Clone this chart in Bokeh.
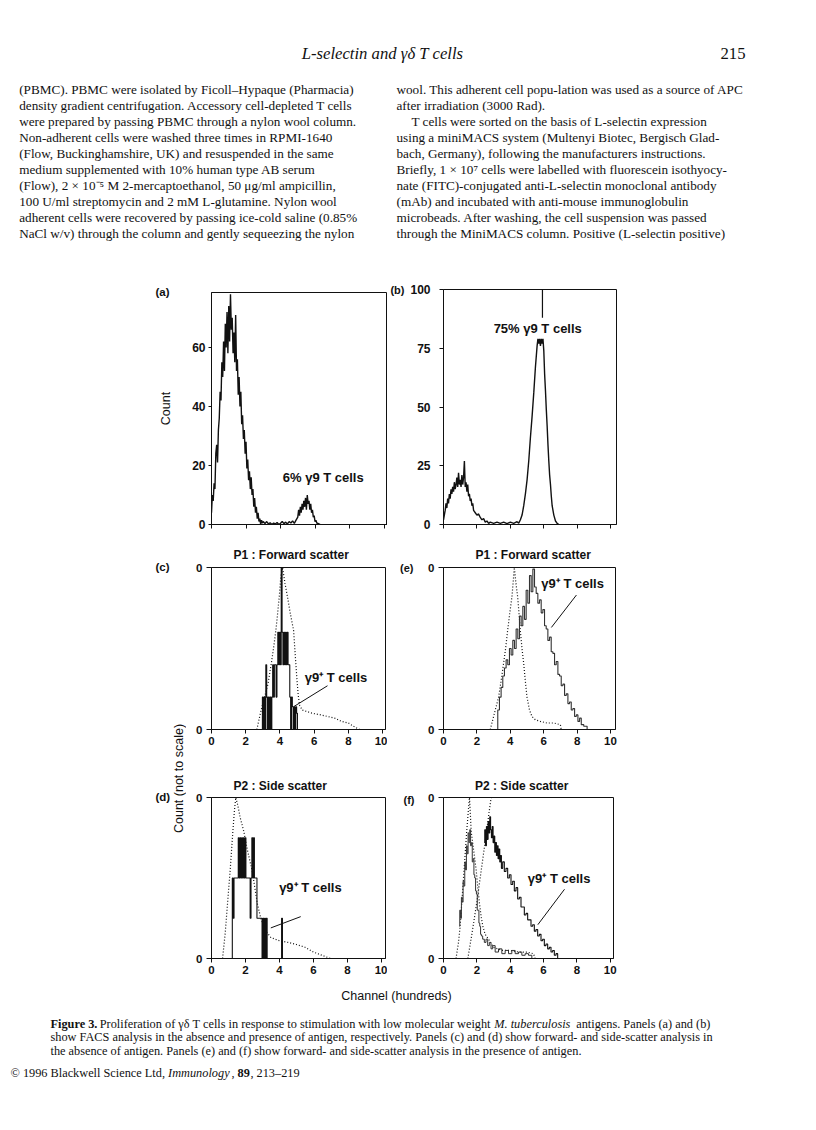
from bokeh.plotting import figure
from bokeh.layouts import row, column
from bokeh.models import Range1d, FixedTicker, LinearAxis
from bokeh.embed import file_html
from bokeh.resources import INLINE
from bokeh.core.properties import value

INK = "#111111"
SERIF = "Liberation Serif"
SANS = "Liberation Sans"

# ---------------------------------------------------------------- page text
header_title = "L-selectin and γδ T cells"
header_page = "215"

left_lines = [
    "(PBMC). PBMC were isolated by Ficoll–Hypaque (Pharmacia)",
    "density gradient centrifugation. Accessory cell-depleted T cells",
    "were prepared by passing PBMC through a nylon wool column.",
    "Non-adherent cells were washed three times in RPMI-1640",
    "(Flow, Buckinghamshire, UK) and resuspended in the same",
    "medium supplemented with 10% human type AB serum",
    "(Flow), 2 × 10⁻⁵ M 2-mercaptoethanol, 50 μg/ml ampicillin,",
    "100 U/ml streptomycin and 2 mM L-glutamine. Nylon wool",
    "adherent cells were recovered by passing ice-cold saline (0.85%",
    "NaCl w/v) through the column and gently sequeezing the nylon",
]
right_lines = [
    "wool. This adherent cell popu-lation was used as a source of APC",
    "after irradiation (3000 Rad).",
    "T cells were sorted on the basis of L-selectin expression",
    "using a miniMACS system (Multenyi Biotec, Bergisch Glad-",
    "bach, Germany), following the manufacturers instructions.",
    "Briefly, 1 × 10⁷ cells were labelled with fluorescein isothyocy-",
    "nate (FITC)-conjugated anti-L-selectin monoclonal antibody",
    "(mAb) and incubated with anti-mouse immunoglobulin",
    "microbeads. After washing, the cell suspension was passed",
    "through the MiniMACS column. Positive (L-selectin positive)",
]
right_indent = [False, False, True, False, False, False, False, False, False, False]

caption_lines = [
    [("Figure 3.", "bold"),
     ("Proliferation of γδ T cells in response to stimulation with low molecular weight", "normal"),
     ("M. tuberculosis", "italic"),
     ("antigens. Panels (a) and (b)", "normal")],
    [("show FACS analysis in the absence and presence of antigen, respectively. Panels (c) and (d) show forward- and side-scatter analysis in", "normal")],
    [("the absence of antigen. Panels (e) and (f) show forward- and side-scatter analysis in the presence of antigen.", "normal")],
]
copyright_parts = [("© 1996 Blackwell Science Ltd,", "normal", False),
                   ("Immunology", "italic", True),
                   (",", "normal", False),
                   ("89", "bold", True),
                   (", 213–219", "normal", False)]

axis_x_title = "Channel (hundreds)"
count_title = "Count"
count_ns_title = "Count (not to scale)"
p1_title = "P1 : Forward scatter"
p2_title = "P2 : Side scatter"

# ---------------------------------------------------------------- panel data
x_ticks = [0, 2, 4, 6, 8, 10]
a_yticks = [0, 20, 40, 60]
b_yticks = [0, 25, 50, 75, 100]
cdef_yticks = [0, 1]
cdef_ylabels = {1: "0"}

# (a) FACS histogram, no antigen
a_x = [0.00, 0.05, 0.10, 0.15, 0.20, 0.25, 0.30, 0.35, 0.40, 0.45, 0.50, 0.55, 0.60, 0.65, 0.70, 0.75, 0.80, 0.85, 0.90, 0.95,
       1.00, 1.05, 1.10, 1.15, 1.20, 1.25, 1.30, 1.35, 1.40, 1.45, 1.50, 1.55, 1.60, 1.65, 1.70, 1.75, 1.80, 1.85, 1.90, 1.95,
       2.00, 2.05, 2.10, 2.15, 2.20, 2.25, 2.30, 2.35, 2.40, 2.45, 2.50, 2.55, 2.60, 2.65, 2.70, 2.75, 2.80, 2.85, 2.90, 2.95,
       3.0, 3.1, 3.2, 3.3, 3.4, 3.5, 3.6, 3.7, 3.8, 3.9, 4.0, 4.1, 4.2, 4.3, 4.4, 4.5, 4.6, 4.7, 4.8, 4.9,
       5.0, 5.05, 5.1, 5.15, 5.2, 5.25, 5.3, 5.35, 5.4, 5.45, 5.5, 5.55, 5.6, 5.65, 5.7, 5.75, 5.8, 5.85, 5.9, 5.95,
       6.0, 6.05, 6.1, 6.2, 6.3]
a_count = [4, 10, 8, 14, 12, 24, 27, 21, 32, 36, 45, 42, 55, 50, 62, 52, 68, 60, 72, 58,
           74, 62, 78, 66, 70, 58, 65, 55, 71, 52, 56, 44, 50, 40, 45, 34, 37, 29, 32, 24,
           28, 19, 22, 15, 18, 12, 16, 10, 12, 6, 9, 4, 6, 2, 4, 1, 2, 0, 1.5, 0.5,
           1, 0.3, 1, 0.2, 0.6, 0, 0.5, 0.2, 0.7, 0, 0.4, 1, 0.3, 0.8, 0.2, 1, 0.5, 1.2, 0.4, 1.5,
           2.5, 5, 3, 6, 4, 7, 5, 8, 6, 9, 5, 10, 7, 8, 5, 7, 4, 5, 2.5, 3,
           1, 1.5, 0.5, 0.3, 0]
a_note = "6% γ9 T cells"

# (b) FACS histogram, with antigen
b_x = [0.0, 0.1, 0.15, 0.2, 0.25, 0.3, 0.35, 0.4, 0.45, 0.5, 0.55, 0.6, 0.65, 0.7, 0.75, 0.8, 0.85, 0.9, 0.95, 1.0,
       1.05, 1.1, 1.15, 1.2, 1.25, 1.3, 1.35, 1.4, 1.45, 1.5, 1.55, 1.6, 1.65, 1.7, 1.75, 1.8, 1.9, 2.0, 2.1, 2.2,
       2.3, 2.4, 2.5, 2.6, 2.7, 2.8, 3.0, 3.2, 3.4, 3.6, 3.8, 4.0, 4.2, 4.4, 4.5, 4.6, 4.7, 4.8, 4.9, 5.0,
       5.1, 5.2, 5.3, 5.4, 5.5, 5.6, 5.65, 5.7, 5.75, 5.8, 5.85, 5.9, 5.95, 6.0, 6.05, 6.1, 6.15, 6.2, 6.25, 6.3,
       6.35, 6.4, 6.45, 6.5, 6.6, 6.7, 6.8, 6.9]
b_count = [2, 6, 9, 7, 11, 9, 13, 11, 15, 13, 16, 14, 18, 15, 17, 20, 16, 22, 17, 19,
           16, 21, 17, 20, 27, 16, 18, 14, 17, 12, 13, 10, 11, 8, 9, 6, 5, 4, 4.5, 3,
           2, 2.5, 1, 1.5, 0.5, 1, 0.5, 1, 0.5, 1, 0.4, 1, 0.5, 1.2, 0.6, 2, 4, 8, 13, 19,
           27, 37, 46, 56, 67, 76, 79, 77, 79, 76, 79, 77, 79, 74, 64, 57, 49, 42, 34, 27,
           21, 17, 12, 8, 4, 1.5, 0.5, 0]
b_spike_x = [5.92]
b_spike_lo = [88]
b_spike_hi = [100]
b_note = "75% γ9 T cells"

# (c) forward scatter, no antigen
c_tot_x = [2.65, 2.9, 3.1, 3.3, 3.5, 3.65, 3.76, 3.85, 3.96, 4.05, 4.15, 4.3, 4.44, 4.6, 4.8, 4.9, 5.0, 5.07, 5.15, 5.3,
           5.6, 5.9, 6.4, 6.8, 7.2, 7.6, 8.0, 8.3, 8.65]
c_tot_y = [0, 0.12, 0.2, 0.28, 0.41, 0.52, 0.61, 0.7, 0.82, 0.94, 1.0, 0.9, 0.82, 0.72, 0.61, 0.45, 0.3, 0.21, 0.15, 0.12,
           0.11, 0.10, 0.09, 0.08, 0.07, 0.05, 0.04, 0.02, 0]
c_pos_x = [2.95, 3.00, 3.05, 3.10, 3.15, 3.20, 3.25, 3.30, 3.35, 3.40, 3.45, 3.50, 3.55, 3.60, 3.65, 3.70, 3.75, 3.80, 3.85, 3.90,
           3.95, 4.00, 4.05, 4.10, 4.15, 4.20, 4.25, 4.30, 4.35, 4.40, 4.45, 4.50, 4.55, 4.60, 4.65, 4.70, 4.75, 4.80, 4.85, 4.90,
           4.95, 5.00, 5.05]
c_pos_y = [0, 0.2, 0, 0.2, 0, 0.4, 0.2, 0, 0.2, 0, 0.2, 0, 0.2, 0.4, 0.2, 0.4, 0.4, 0.2, 0.4, 0.6,
           0.4, 0.6, 0.4, 1.0, 0.6, 0.4, 0.6, 0.4, 0.6, 0.4, 0.6, 0.4, 0.4, 0.2, 0, 0.2, 0.14, 0, 0.14, 0,
           0.14, 0.1, 0]

# (d) side scatter, no antigen
d_tot_x = [0.65, 0.8, 0.95, 1.1, 1.25, 1.35, 1.43, 1.55, 1.7, 1.9, 2.1, 2.4, 2.7, 2.9, 3.2, 3.5, 4.0, 4.5, 5.0, 5.5,
           6.0, 6.5, 7.0]
d_tot_y = [0, 0.15, 0.35, 0.55, 0.78, 0.92, 1.0, 0.95, 0.87, 0.79, 0.68, 0.54, 0.34, 0.25, 0.17, 0.13, 0.11, 0.1, 0.087, 0.07,
           0.04, 0.02, 0]
d_pos_x = [1.20, 1.25, 1.30, 1.35, 1.40, 1.45, 1.50, 1.55, 1.60, 1.65, 1.70, 1.75, 1.80, 1.85, 1.90, 1.95, 2.00, 2.05, 2.10, 2.15,
           2.20, 2.25, 2.30, 2.35, 2.40, 2.45, 2.50, 2.55, 2.60, 2.65, 2.70, 2.75, 2.80, 2.85, 2.90, 2.95, 3.00, 3.05, 3.10, 3.15,
           3.20, 3.25, 3.30, 3.35, 4.10, 4.15, 4.20]
d_pos_y = [0, 0.5, 0.25, 0.5, 0.5, 0.5, 0.5, 0.5, 0.75, 0.5, 0.75, 0.5, 0.75, 0.5, 0.75, 0.5, 0.75, 0.5, 0.5, 0.5,
           0.5, 0.5, 0.25, 0.5, 0.75, 0.5, 0.75, 0.5, 0.5, 0.5, 0.25, 0.25, 0.25, 0.25, 0.25, 0.25, 0, 0.25, 0, 0.25,
           0, 0.25, 0, 0, 0, 0.25, 0]

# (e) forward scatter, with antigen
e_tot_x = [2.8, 3.0, 3.3, 3.45, 3.6, 3.72, 3.84, 3.97, 4.1, 4.18, 4.24, 4.34, 4.44, 4.52, 4.6, 4.7, 4.8, 4.9, 5.0, 5.15,
           5.3, 5.5, 5.8, 6.2, 6.6, 7.0, 7.05]
e_tot_y = [0, 0.08, 0.2, 0.3, 0.41, 0.5, 0.61, 0.72, 0.82, 0.92, 1.0, 0.9, 0.82, 0.72, 0.61, 0.5, 0.41, 0.3, 0.2, 0.12,
           0.08, 0.06, 0.05, 0.04, 0.04, 0.03, 0]
e_pos_x = [3.2, 3.3, 3.4, 3.5, 3.6, 3.7, 3.8, 3.9, 4.0, 4.1, 4.2, 4.3, 4.4, 4.5, 4.6, 4.7, 4.8, 4.9, 5.0, 5.1,
           5.2, 5.3, 5.4, 5.5, 5.6, 5.7, 5.8, 5.9, 6.0, 6.1, 6.2, 6.3, 6.4, 6.5, 6.6, 6.7, 6.8, 6.9, 7.0, 7.1,
           7.2, 7.3, 7.4, 7.5, 7.6, 7.7, 7.8, 7.9, 8.0, 8.1, 8.2, 8.3, 8.5, 8.7]
e_pos_y = [0, 0.12, 0.2, 0.26, 0.33, 0.38, 0.43, 0.40, 0.5, 0.46, 0.55, 0.5, 0.62, 0.56, 0.7, 0.64, 0.76, 0.68, 0.86, 0.78,
           0.95, 0.85, 0.99, 0.88, 0.84, 0.78, 0.80, 0.72, 0.74, 0.64, 0.62, 0.55, 0.57, 0.48, 0.47, 0.40, 0.42, 0.34, 0.33, 0.27,
           0.28, 0.21, 0.22, 0.16, 0.17, 0.12, 0.13, 0.08, 0.09, 0.05, 0.07, 0.03, 0.02, 0]

# (f) side scatter, with antigen
f_neg_x = [0.75, 0.9, 1.0, 1.1, 1.2, 1.3, 1.4, 1.5, 1.56, 1.62, 1.66, 1.8, 1.96, 2.06, 2.16, 2.26, 2.36, 2.5, 2.76, 3.0,
           3.5, 4.0, 4.5, 5.0, 5.4, 5.5]
f_neg_y = [0, 0.1, 0.2, 0.35, 0.5, 0.65, 0.8, 0.93, 1.0, 0.88, 0.79, 0.68, 0.55, 0.44, 0.34, 0.26, 0.2, 0.15, 0.11, 0.07,
           0.05, 0.05, 0.04, 0.04, 0.03, 0]
f_negr_x = [0.95, 1.0, 1.05, 1.1, 1.15, 1.2, 1.25, 1.3, 1.35, 1.4, 1.45, 1.5, 1.55, 1.6, 1.65, 1.7, 1.75, 1.8, 1.85, 1.9,
            1.95, 2.0, 2.05, 2.1, 2.15, 2.2, 2.25, 2.3, 2.4, 2.5, 2.6, 2.7, 2.8, 2.9, 3.0, 3.2, 3.4, 3.6, 3.8, 4.0,
            4.2, 4.4, 4.6, 4.8, 5.0, 5.2, 5.4]
f_negr_y = [0.2, 0.3, 0.25, 0.38, 0.35, 0.48, 0.45, 0.6, 0.55, 0.7, 0.65, 0.78, 0.72, 0.8, 0.7, 0.72, 0.6, 0.62, 0.52, 0.5,
            0.42, 0.4, 0.3, 0.3, 0.22, 0.2, 0.15, 0.14, 0.12, 0.1, 0.12, 0.08, 0.1, 0.06, 0.08, 0.04, 0.06, 0.03, 0.05, 0.03,
            0.05, 0.03, 0.04, 0.02, 0.03, 0.02, 0]
f_rise_x = [1.46, 1.7, 2.0, 2.2, 2.4, 2.6, 2.75, 2.86]
f_rise_y = [0, 0.15, 0.35, 0.5, 0.65, 0.8, 0.92, 1.0]
f_pos_x = [2.45, 2.5, 2.55, 2.6, 2.65, 2.7, 2.75, 2.8, 2.85, 2.9, 2.95, 3.0, 3.05, 3.1, 3.15, 3.2, 3.25, 3.3, 3.35, 3.4,
           3.45, 3.5, 3.6, 3.7, 3.8, 3.9, 4.0, 4.1, 4.2, 4.3, 4.4, 4.5, 4.6, 4.7, 4.8, 4.9, 5.0, 5.1, 5.2, 5.3,
           5.4, 5.5, 5.6, 5.7, 5.8, 5.9, 6.0, 6.1, 6.2, 6.3, 6.4, 6.5, 6.6, 6.7, 6.8, 6.9]
f_pos_y = [0.72, 0.8, 0.7, 0.82, 0.74, 0.85, 0.78, 0.88, 0.8, 0.75, 0.82, 0.72, 0.76, 0.66, 0.72, 0.64, 0.7, 0.62, 0.68, 0.6,
           0.64, 0.56, 0.6, 0.54, 0.56, 0.5, 0.52, 0.46, 0.48, 0.42, 0.44, 0.37, 0.38, 0.32, 0.32, 0.27, 0.28, 0.24, 0.24, 0.2,
           0.21, 0.17, 0.18, 0.14, 0.15, 0.11, 0.12, 0.08, 0.09, 0.06, 0.07, 0.04, 0.05, 0.02, 0.03, 0]

pos_note = "γ9⁺ T cells"
# note anchors (data units of each panel): text left/middle, leader start -> end
c_note_xy = (5.45, 0.32); c_lead = ([6.78], [0.27], [4.79], [0.14])
e_note_xy = (5.86, 0.90); e_lead = ([7.96], [0.83], [6.46], [0.63])
d_note_xy = (3.98, 0.44); d_lead = ([5.25], [0.26], [3.49], [0.19])
f_note_xy = (5.06, 0.50); f_lead = ([7.26], [0.43], [5.66], [0.21])

# ---------------------------------------------------------------- helpers
_TW = dict(zip("abcdefghijklmnopqrstuvwxyz",
               [444, 500, 444, 500, 444, 333, 500, 500, 278, 278, 500, 278, 778, 500, 500, 500, 500, 333, 389, 278,
                500, 500, 722, 500, 500, 444]))
_TW.update(zip("ABCDEFGHIJKLMNOPQRSTUVWXYZ",
               [722, 667, 667, 722, 611, 556, 722, 722, 333, 389, 722, 611, 889, 722, 722, 556, 722, 667, 556, 611,
                722, 722, 944, 722, 722, 611]))
_TW.update({c: 500 for c in "0123456789"})
_TW.update({" ": 250, "(": 333, ")": 333, ".": 250, ",": 250, "-": 333, "–": 500, "/": 278, "%": 833,
            ":": 278, ";": 278, "×": 564, "©": 760, "γ": 440, "δ": 500})
_TWI = dict(_TW)
_TWI.update(zip("abcdefghijklmnopqrstuvwxyz",
                [500, 500, 444, 500, 444, 278, 500, 500, 278, 278, 444, 278, 722, 500, 500, 500, 500, 389, 389, 278,
                 500, 444, 667, 444, 444, 389]))
_TWI.update({"M": 833})


def tw(s, fs, style):
    table = _TWI if style == "italic" else _TW
    f = {"bold": 1.04, "italic": 1.03}.get(style, 1.0)
    return sum(table.get(c, 500) for c in s) / 1000.0 * fs * f


def text_fig(x0, x1, y0, y1):
    p = figure(width=round(x1 - x0), height=round(y1 - y0),
               x_range=Range1d(x0, x1), y_range=Range1d(y1, y0),
               x_axis_location=None, y_axis_location=None, min_border=0,
               output_backend="svg", toolbar_location=None, tools="", title=None)
    p.grid.visible = False
    p.outline_line_color = None
    p.background_fill_color = "white"
    p.border_fill_color = "white"
    return p


def put(p, xs, ys, texts, font=SERIF, size=13.2, style="normal", align="left", angle=0, color=INK):
    p.text(x=xs, y=ys, text=texts, text_font=value(font), text_font_size=value(f"{size}px"),
           text_font_style=value(style), text_align=value(align), text_baseline=value("middle"),
           angle=angle, angle_units="deg", text_color=color)


def make_panel(xr, yr, fw, fh, bl, br, bt, bb):
    p = figure(frame_width=fw, frame_height=fh, x_range=Range1d(*xr), y_range=Range1d(*yr),
               min_border_left=bl, min_border_right=br, min_border_top=bt, min_border_bottom=bb,
               output_backend="svg", toolbar_location=None, tools="", title=None)
    p.grid.visible = False
    p.outline_line_color = INK
    p.outline_line_width = 1
    p.outline_line_alpha = 1
    p.background_fill_color = "white"
    p.border_fill_color = "white"
    return p


def style_axis(ax, ticks, overrides=None, font=SANS, size="11.5px", out=4, standoff=3, labels=True):
    ax.ticker = FixedTicker(ticks=ticks)
    ax.major_tick_in = 0
    ax.major_tick_out = out
    ax.minor_tick_in = 0
    ax.minor_tick_out = 0
    ax.axis_line_color = INK
    ax.axis_line_width = 1
    ax.major_tick_line_color = INK
    ax.major_tick_line_width = 1
    ax.major_label_text_color = INK
    ax.major_label_text_font = font
    ax.major_label_text_font_style = "bold"
    if labels:
        ax.major_label_overrides = overrides or {}
        ax.major_label_text_font_size = size
        ax.major_label_standoff = standoff
    else:
        ax.major_label_overrides = {t: "" for t in ticks}
        ax.major_label_text_font_size = "1px"
        ax.major_label_standoff = 0


def panel_letter(p, tick, letter, standoff):
    # an outer, line-less left axis whose single label is the panel letter
    ax = LinearAxis(ticker=FixedTicker(ticks=[tick]), major_label_overrides={tick: letter})
    ax.axis_line_color = None
    ax.major_tick_line_color = None
    ax.major_tick_in = 0
    ax.major_tick_out = 0
    ax.minor_tick_in = 0
    ax.minor_tick_out = 0
    ax.major_label_standoff = standoff
    ax.major_label_text_font = SANS
    ax.major_label_text_font_style = "bold"
    ax.major_label_text_font_size = "11px"
    ax.major_label_text_color = INK
    p.add_layout(ax, "left")


DOT = "1 2"

# ---------------------------------------------------------------- top text
top = text_fig(0, 808, 0, 280)
put(top, [382], [53], [header_title], size=16.7, style="italic", align="center")
put(top, [745], [53], [header_page], size=16.7, align="right")
line_y = [88.5 + 16.05 * i for i in range(len(left_lines))]
put(top, [18.7] * len(left_lines), line_y, left_lines)
put(top, [411 if ind else 396 for ind in right_indent], line_y, right_lines)

# ---------------------------------------------------------------- left strip
strip = text_fig(0, 186, 280, 982)
put(strip, [155, 155, 155], [291.7, 566.7, 796.7], ["(a)", "(c)", "(d)"], font=SANS, size=11.5, style="bold")
put(strip, [165], [408], [count_title], font=SANS, size=12.5, align="center", angle=90)
put(strip, [178.5], [778], [count_ns_title], font=SANS, size=12.5, align="center", angle=90)

# ---------------------------------------------------------------- panel (a)
pa = make_panel((0, 10.2), (0, 78.6), 176, 232, 25, 0, 12, 14)
style_axis(pa.xaxis[0], x_ticks, out=4, labels=False)
style_axis(pa.yaxis[0], a_yticks, size="12px", out=3, standoff=3)
pa.line(a_x, a_count, line_color=INK, line_width=1.4)
put(pa, [4.13], [15.9], [a_note], font=SANS, size=13, style="bold")

# ---------------------------------------------------------------- panel (b)
pb = make_panel((0, 10.35), (0, 100), 173, 235, 54, 36, 9, 14)
style_axis(pb.xaxis[0], x_ticks, out=4, labels=False)
style_axis(pb.yaxis[0], b_yticks, size="12px", out=4, standoff=9)
panel_letter(pb, 100, "(b)", 3)
pb.line(b_x, b_count, line_color=INK, line_width=1.4)
pb.segment(x0=b_spike_x, y0=b_spike_lo, x1=b_spike_x, y1=b_spike_hi, line_color=INK, line_width=1.2)
put(pb, [3.0], [83.2], [b_note], font=SANS, size=13, style="bold")

# ---------------------------------------------------------------- panel (c)
pc = make_panel((0, 10.17), (0, 1), 174, 162, 25, 2, 6, 22)
style_axis(pc.xaxis[0], x_ticks, out=4, standoff=3)
style_axis(pc.yaxis[0], cdef_yticks, cdef_ylabels, out=5, standoff=4)
pc.line(c_tot_x, c_tot_y, line_color=INK, line_width=1.2, line_dash=DOT)
pc.step(c_pos_x, c_pos_y, mode="center", line_color=INK, line_width=1.1)
put(pc, [c_note_xy[0]], [c_note_xy[1]], [pos_note], font=SANS, size=13, style="bold")
pc.segment(x0=c_lead[0], y0=c_lead[1], x1=c_lead[2], y1=c_lead[3], line_color=INK, line_width=1)

# ---------------------------------------------------------------- panel (e)
pe = make_panel((0, 10.3), (0, 1), 172, 162, 51, 40, 6, 22)
style_axis(pe.xaxis[0], x_ticks, out=4, standoff=3)
style_axis(pe.yaxis[0], cdef_yticks, cdef_ylabels, out=5, standoff=4)
panel_letter(pe, 1, "(e)", 12)
pe.line(e_tot_x, e_tot_y, line_color=INK, line_width=1.2, line_dash=DOT)
pe.step(e_pos_x, e_pos_y, mode="center", line_color="#333333", line_width=1.1)
put(pe, [e_note_xy[0]], [e_note_xy[1]], [pos_note], font=SANS, size=13, style="bold")
pe.segment(x0=e_lead[0], y0=e_lead[1], x1=e_lead[2], y1=e_lead[3], line_color=INK, line_width=1)

# ---------------------------------------------------------------- panel (d)
pd_ = make_panel((0, 10.24), (0, 1), 174, 161, 23, 4, 5, 24)
style_axis(pd_.xaxis[0], x_ticks, out=4, standoff=3)
style_axis(pd_.yaxis[0], cdef_yticks, cdef_ylabels, out=5, standoff=4)
pd_.line(d_tot_x, d_tot_y, line_color=INK, line_width=1.2, line_dash=DOT)
pd_.step(d_pos_x, d_pos_y, mode="center", line_color=INK, line_width=1.1)
put(pd_, [d_note_xy[0]], [d_note_xy[1]], [pos_note], font=SANS, size=13, style="bold")
pd_.segment(x0=d_lead[0], y0=d_lead[1], x1=d_lead[2], y1=d_lead[3], line_color=INK, line_width=1)

# ---------------------------------------------------------------- panel (f)
pf = make_panel((0, 10.2), (0, 1), 170, 161, 50, 43, 5, 24)
style_axis(pf.xaxis[0], x_ticks, out=4, standoff=3)
style_axis(pf.yaxis[0], cdef_yticks, cdef_ylabels, out=5, standoff=4)
panel_letter(pf, 1, "(f)", 11)
pf.line(f_neg_x, f_neg_y, line_color=INK, line_width=1.2, line_dash=DOT)
pf.step(f_negr_x, f_negr_y, mode="center", line_color="#333333", line_width=1.0)
pf.line(f_rise_x, f_rise_y, line_color=INK, line_width=1.2, line_dash=DOT)
pf.step(f_pos_x, f_pos_y, mode="center", line_color=INK, line_width=1.1)
put(pf, [f_note_xy[0]], [f_note_xy[1]], [pos_note], font=SANS, size=13, style="bold")
pf.segment(x0=f_lead[0], y0=f_lead[1], x1=f_lead[2], y1=f_lead[3], line_color=INK, line_width=1)

# ---------------------------------------------------------------- title bands
band_c = text_fig(186, 387, 538, 561)
put(band_c, [211.7], [554.3], [p1_title], font=SANS, size=12, style="bold")
band_e = text_fig(387, 650, 538, 561)
put(band_e, [438.3], [554.3], [p1_title], font=SANS, size=12, style="bold")
band_d = text_fig(186, 387, 751, 792)
put(band_d, [211.7], [785.0], [p2_title], font=SANS, size=12, style="bold")
band_f = text_fig(387, 650, 751, 792)
put(band_f, [437.5], [785.0], [p2_title], font=SANS, size=12, style="bold")

# ---------------------------------------------------------------- bottom text
bottom = text_fig(0, 808, 982, 1122)
put(bottom, [396], [995], [axis_x_title], font=SANS, size=12.5, align="center")
cap_fs = 12.3
cap_y = [1023, 1036.5, 1050]
for segs, y in zip(caption_lines, cap_y):
    x = 50.0
    for i, (t, st) in enumerate(segs):
        if i > 0:
            x += tw(" ", cap_fs, "normal")
        put(bottom, [x], [y], [t], size=cap_fs, style=st)
        x += tw(t, cap_fs, st)
x = 10.0
for t, st, gap in copyright_parts:
    if gap:
        x += tw(" ", cap_fs, "normal")
    put(bottom, [x], [1072], [t], size=cap_fs, style=st)
    x += tw(t, cap_fs, st)

# ---------------------------------------------------------------- layout
col_left = column(pa, band_c, pc, band_d, pd_)
col_right = column(pb, band_e, pe, band_f, pf)
page = column(top, row(strip, col_left, col_right), bottom)

open("out.html", "w").write(file_html(page, INLINE))
